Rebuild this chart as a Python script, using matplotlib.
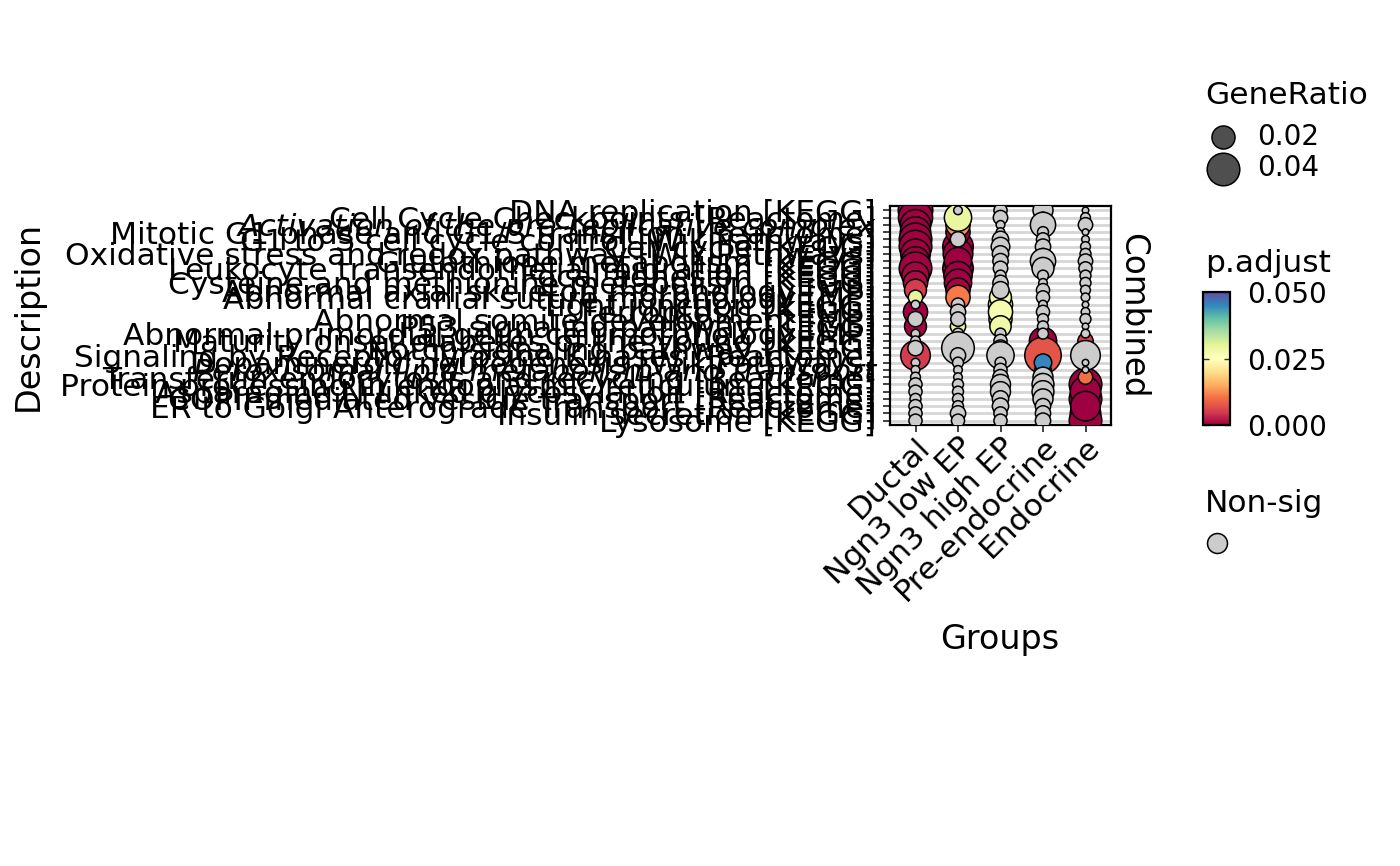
import numpy as np
import matplotlib
matplotlib.use("Agg")
import matplotlib.pyplot as plt
from matplotlib import colors as mcolors, cm
from matplotlib.transforms import ScaledTranslation

# ---------------- data ----------------
groups = ["Ductal", "Ngn3 low EP", "Ngn3 high EP", "Pre-endocrine", "Endocrine"]

terms = [
    "DNA replication [KEGG]",
    "Cell Cycle Checkpoints [Reactome]",
    "Activation of the pre-replicative complex",
    "Mitotic G1 phase and G1/S transition [Reactome]",
    "G1 to S cell cycle control [WikiPathways]",
    "Cell cycle [KEGG]",
    "Oxidative stress and redox pathway [WikiPathways]",
    "Glutathione metabolism [KEGG]",
    "Leukocyte transendothelial migration [KEGG]",
    "Focal adhesion [KEGG]",
    "Cysteine and methionine metabolism [KEGG]",
    "Abnormal axial skeleton morphology [MP]",
    "Abnormal cranial suture morphology [MP]",
    "Tight junction [KEGG]",
    "Ferroptosis [KEGG]",
    "Abnormal somite development [MP]",
    "P53 signaling pathway [KEGG]",
    "Abnormal primordial germ cell morphology [MP]",
    "Maturity onset diabetes of the young [KEGG]",
    "Notch signaling pathway [KEGG]",
    "Signaling by Receptor Tyrosine Kinases [Reactome]",
    "Dopaminergic neurogenesis [WikiPathways]",
    "Peroxisomal lipid metabolism and transport",
    "Transferrin endocytosis and recycling [Reactome]",
    "Protein processing in endoplasmic reticulum [KEGG]",
    "Asparagine N-linked glycosylation [Reactome]",
    "COPII-mediated vesicle transport [Reactome]",
    "ER to Golgi Anterograde Transport [Reactome]",
    "Insulin secretion [KEGG]",
    "Lysosome [KEGG]",
]
italic_terms = ["Activation of the pre-replicative complex",
                "Peroxisomal lipid metabolism and transport"]

ductal_ratio = [0.045, 0.044, 0.035, 0.035, 0.040, 0.040, 0.033, 0.031, 0.040, 0.028,
                0.022, 0.018, 0.0078, 0.0028, 0.022, 0.0088, 0.018, 0.0028, 0.0036, 0.0088,
                0.033, 0.0028, 0.0028, 0.0036, 0.0065, 0.0065, 0.0045, 0.0065, 0.0065, 0.0065]
ductal_padj = [1e-6, 1e-6, 1e-5, 1e-5, 1e-5, 1e-4, 1e-4, 1e-4, 2e-4, 5e-4,
               1e-3, 0.005, 0.030, 0.21, 3e-4, 0.35, 5e-4, 0.6, 0.8, 0.42,
               0.005, 0.9, 0.7, 0.5, 0.3, 0.25, 0.66, 0.4, 0.37, 0.3]

ngn3low_ratio = [0.0028, 0.028, 0.022, 0.022, 0.0088, 0.035, 0.033, 0.028, 0.035, 0.030,
                 0.028, 0.022, 0.022, 0.0065, 0.0088, 0.0078, 0.0088, 0.0045, 0.0065, 0.040,
                 0.0088, 0.0045, 0.0028, 0.0028, 0.0045, 0.0045, 0.0045, 0.0045, 0.0088, 0.0065]
ngn3low_padj = [0.31, 0.029, 0.0125, 1e-4, 0.27, 1e-5, 1e-5, 1e-4, 1e-5, 1e-4,
                2e-4, 5e-4, 0.011, 0.4, 0.33, 0.18, 0.030, 0.55, 0.47, 0.12,
                0.38, 0.8, 0.9, 0.75, 0.6, 0.66, 0.7, 0.5, 0.45, 0.52]

ngn3high_ratio = [0.0065, 0.0078, 0.0028, 0.0028, 0.010, 0.013, 0.010, 0.0088, 0.0078, 0.0045,
                  0.0088, 0.011, 0.018, 0.022, 0.022, 0.020, 0.017, 0.0045, 0.0065, 0.010,
                  0.028, 0.0045, 0.0065, 0.0088, 0.015, 0.015, 0.010, 0.010, 0.0065, 0.0065]
ngn3high_padj = [0.3, 0.25, 0.6, 0.7, 0.2, 0.15, 0.22, 0.28, 0.35, 0.5,
                 0.3, 0.12, 0.027, 0.026, 0.027, 0.026, 0.028, 0.4, 0.45, 0.33,
                 0.09, 0.7, 0.6, 0.5, 0.3, 0.32, 0.44, 0.38, 0.6, 0.55]

preendo_ratio = [0.015, 0.0045, 0.024, 0.0045, 0.0065, 0.0088, 0.0045, 0.024, 0.018, 0.0045,
                 0.0028, 0.0065, 0.0065, 0.0028, 0.0065, 0.0045, 0.0045, 0.0045, 0.028, 0.018,
                 0.050, 0.0115, 0.010, 0.015, 0.018, 0.018, 0.015, 0.0088, 0.0088, 0.0088]
preendo_padj = [0.2, 0.5, 0.15, 0.6, 0.4, 0.3, 0.55, 0.1, 0.12, 0.7,
                0.8, 0.45, 0.5, 0.9, 0.4, 0.6, 0.65, 0.7, 1e-4, 0.003,
                0.0075, 0.045, 0.044, 0.2, 0.15, 0.18, 0.22, 0.35, 0.3, 0.4]

endo_ratio = [0.0016, 0.0036, 0.0078, 0.0016, 0.0022, 0.0036, 0.0045, 0.0078, 0.0065, 0.0045,
              0.0045, 0.0036, 0.0028, 0.0016, 0.0028, 0.0045, 0.0016, 0.0028, 0.0088, 0.0045,
              0.033, 0.0016, 0.0016, 0.0078, 0.040, 0.035, 0.040, 0.033, 0.035, 0.040]
endo_padj = [0.9, 0.7, 0.4, 0.95, 0.85, 0.7, 0.6, 0.45, 0.5, 0.6,
             0.62, 0.7, 0.75, 0.9, 0.8, 0.65, 0.9, 0.8, 0.005, 0.004,
             0.2, 0.95, 0.9, 0.010, 1e-5, 1e-5, 1e-6, 1e-5, 1e-6, 1e-6]

size_breaks = [0.02, 0.04]
color_ticks = [0.0, 0.025, 0.05]
sig_cutoff = 0.05

ratios = [ductal_ratio, ngn3low_ratio, ngn3high_ratio, preendo_ratio, endo_ratio]
padjs = [ductal_padj, ngn3low_padj, ngn3high_padj, preendo_padj, endo_padj]

# ---------------- styling ----------------
W, H = 1400, 866
PX = 0.72                      # points per pixel at dpi=100
SIZE_K = (163 * PX) ** 2       # marker area (pt^2) per unit GeneRatio
NONSIG_COLOR = "#CCCCCC"
NONSIG_LEGEND_S = SIZE_K * 0.015
EDGE_LW = 1.1

def fx(px):
    return px / W

def fy(py):
    return 1 - py / H

fig = plt.figure(figsize=(14, 8.66), dpi=100)
fig.patch.set_facecolor("white")

ax = fig.add_axes([fx(890), fy(425), 221 / W, 219 / H])
n = len(terms)
cmap = plt.get_cmap("Spectral")
norm = mcolors.Normalize(vmin=0, vmax=0.05)

sig, nonsig = [], []
for gi in range(len(groups)):
    for ti in range(n):
        r = ratios[gi][ti]
        p = padjs[gi][ti]
        rec = (gi, n - 1 - ti, r, p)
        if p <= sig_cutoff:
            sig.append(rec)
        else:
            nonsig.append(rec)

sig.sort(key=lambda t: t[3])
ax.scatter([t[0] for t in sig], [t[1] for t in sig],
           s=[SIZE_K * t[2] for t in sig], c=[t[3] for t in sig],
           cmap=cmap, norm=norm, edgecolors="black", linewidths=EDGE_LW, zorder=3)
ax.scatter([t[0] for t in nonsig], [t[1] for t in nonsig],
           s=[SIZE_K * t[2] for t in nonsig], c=NONSIG_COLOR,
           edgecolors="black", linewidths=EDGE_LW, zorder=4)

ax.set_xlim(-0.6, len(groups) - 1 + 0.6)
ax.set_ylim(-0.6, n - 1 + 0.6)
ax.set_yticks(range(n))
ax.set_yticklabels(terms[::-1], fontsize=22.5)
for lab in ax.get_yticklabels():
    if lab.get_text() in italic_terms:
        lab.set_style("italic")
ax.set_xticks(range(len(groups)))
ax.set_xticklabels(groups, fontsize=22.5, rotation=45, ha="right", va="top",
                   rotation_mode="anchor")
off = ScaledTranslation(12 / 100, -15 / 100, fig.dpi_scale_trans)
for lab in ax.get_xticklabels():
    lab.set_transform(lab.get_transform() + off)

ax.set_axisbelow(True)
ax.yaxis.grid(True, color="#D6D6D6", linewidth=2.0, zorder=0)
ax.xaxis.grid(False)
ax.tick_params(axis="both", length=5, width=1.3, color="#333333")
ax.tick_params(axis="y", pad=5)
ax.tick_params(axis="x", pad=0)
for sp in ax.spines.values():
    sp.set_color("black")
    sp.set_linewidth(1.6)

# strip label
fig.text(fx(1133), fy(315.5), "Combined", rotation=270, ha="center", va="center",
         fontsize=23.5)
# axis titles
fig.text(fx(28), fy(315.5), "Description", rotation=90, ha="center", va="center",
         fontsize=24)
fig.text(fx(1000), fy(640), "Groups", ha="center", va="center", fontsize=24)

# ---------------- legends ----------------
legax = fig.add_axes([0, 0, 1, 1])
legax.set_xlim(0, W)
legax.set_ylim(H, 0)
legax.axis("off")
legax.patch.set_alpha(0)

legax.text(1205, 95, "GeneRatio", ha="left", va="center", fontsize=22.5)
for yy, b in zip([137, 168.5], size_breaks):
    legax.scatter([1222.7], [yy], s=SIZE_K * b, c="#4F4F4F",
                  edgecolors="black", linewidths=EDGE_LW)
    legax.text(1257, yy, f"{b:.2f}", ha="left", va="center", fontsize=20)

legax.text(1205, 263, "p.adjust", ha="left", va="center", fontsize=22.5)

legax.text(1205, 503, "Non-sig", ha="left", va="center", fontsize=22.5)
legax.scatter([1217], [543], s=NONSIG_LEGEND_S, c=NONSIG_COLOR,
              edgecolors="black", linewidths=EDGE_LW)

cax = fig.add_axes([fx(1203), fy(425), 27 / W, 133 / H])
cb = fig.colorbar(cm.ScalarMappable(norm=norm, cmap=cmap), cax=cax, ticks=color_ticks)
cb.ax.set_yticklabels([f"{v:.3f}" for v in color_ticks])
cb.outline.set_linewidth(1.6)
cb.outline.set_edgecolor("black")
cax.tick_params(direction="in", length=4, width=1, color="#333333",
                left=True, right=True, pad=12, labelsize=20)

fig.savefig("out.png", dpi=100)
